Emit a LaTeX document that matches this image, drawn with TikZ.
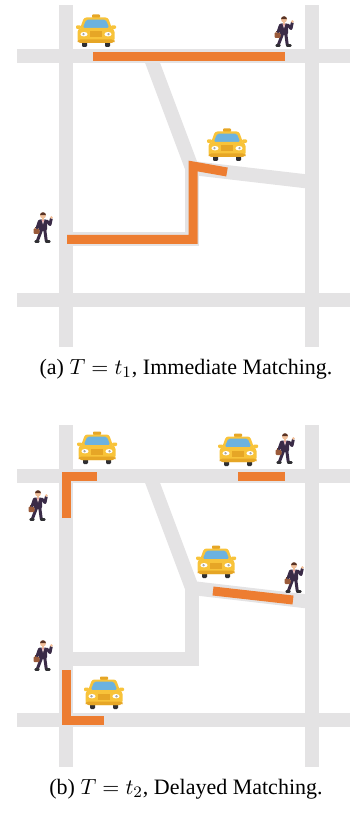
\documentclass[tikz,border=0pt]{standalone}
\usepackage[no-math]{fontspec}
\setmainfont{Liberation Serif}
\begin{document}
\definecolor{road}{HTML}{E4E3E4}
\definecolor{route}{HTML}{ED7D31}
\definecolor{taxiyellow}{HTML}{F8C33A}
\definecolor{taxidark}{HTML}{E6A626}
\definecolor{taxiglass}{HTML}{6CB2DF}
\definecolor{taxiwheel}{HTML}{2F2F33}
\definecolor{suit}{HTML}{3A2B47}
\definecolor{skin}{HTML}{F1C09B}
\definecolor{hair}{HTML}{5A3324}
\definecolor{bag}{HTML}{9A5A3A}
\definecolor{tie}{HTML}{C9393B}
\begin{tikzpicture}[x=0.5pt,y=-0.5pt,
  roadline/.style={draw=road,line width=7pt},
  routeline/.style={draw=route,line width=4.5pt,line join=miter},
  caption/.style={font=\fontsize{11}{13}\selectfont,inner sep=0pt},
  taxi/.pic={
    % wheels
    \fill[taxiwheel,rounded corners=0.6pt] (-14,8) rectangle (-9,16);
    \fill[taxiwheel,rounded corners=0.6pt] (9,8) rectangle (14,16);
    % roof sign
    \fill[taxidark,rounded corners=0.4pt] (-4,-16.5) rectangle (4,-13);
    % cabin and windshield
    \fill[taxiyellow,rounded corners=1.2pt] (-12,-13.5) -- (12,-13.5) -- (16.5,-1) -- (-16.5,-1) -- cycle;
    \fill[taxiglass,rounded corners=0.8pt] (-9.8,-11.3) -- (9.8,-11.3) -- (13.2,-3) -- (-13.2,-3) -- cycle;
    % side mirrors
    \fill[taxiyellow,rounded corners=0.5pt] (-20,-5.5) rectangle (-15,-2);
    \fill[taxiyellow,rounded corners=0.5pt] (15,-5.5) rectangle (20,-2);
    % body
    \fill[taxiyellow,rounded corners=2pt] (-18.5,-3) rectangle (18.5,12);
    \fill[taxidark,rounded corners=1.5pt] (-18.5,8.5) rectangle (18.5,12);
    % grille
    \fill[taxidark] (-6,0.5) rectangle (6,6.5);
    % headlights
    \fill[white] (-12,3.2) ellipse [x radius=3.6,y radius=2.2];
    \fill[white] (12,3.2) ellipse [x radius=3.6,y radius=2.2];
    \fill[gray!70] (-12.5,3.2) circle [radius=1.3];
    \fill[gray!70] (12.5,3.2) circle [radius=1.3];
  },
  person/.pic={
    % legs and shoes
    \draw[suit,line width=1.5pt,line cap=round] (-1.5,3) -- (-5.5,13.5);
    \draw[suit,line width=1.5pt,line cap=round] (1.8,3) -- (3.2,13.5);
    \draw[taxiwheel,line width=1.2pt,line cap=round] (-7.5,14.5) -- (-4.5,14.5);
    \draw[taxiwheel,line width=1.2pt,line cap=round] (3,14.5) -- (6.5,14.5);
    % briefcase and lowered arm
    \fill[bag,rounded corners=0.5pt] (-9.5,1.5) rectangle (-3.5,7);
    \draw[bag!70!black,line width=0.4pt] (-7.5,1.5) -- (-7.5,0.3) -- (-5.5,0.3) -- (-5.5,1.5);
    \draw[suit,line width=1.5pt,line cap=round] (-3.5,-6) -- (-5.8,0.8);
    % torso
    \fill[suit,rounded corners=1pt] (-4.3,-7.5) -- (4.3,-7.5) -- (4,4) -- (-4,4) -- cycle;
    \fill[white] (-1.5,-7.5) -- (1.5,-7.5) -- (0,-2.5) -- cycle;
    \fill[tie] (-0.6,-7.2) -- (0.6,-7.2) -- (0,-3.5) -- cycle;
    % raised waving arm
    \draw[suit,line width=1.5pt,line cap=round,line join=round] (3.8,-6) -- (7,-2.5) -- (8.2,-8);
    \fill[skin] (8.4,-9.5) circle [radius=1.5];
    % head
    \fill[skin] (-0.9,-9) rectangle (0.9,-7);
    \fill[skin] (0,-11.5) circle [radius=3];
    \fill[hair] (-3,-11.8) arc [start angle=180,end angle=360,radius=3] -- cycle;
  }]
\useasboundingbox (0,0) rectangle (350,822);

% street network, drawn once for each panel
\foreach \dy/\top/\bot in {0/5/347, 420/425/767}{
  \begin{scope}[yshift=-\dy*0.5pt]
    \draw[roadline] (66,\top-\dy) -- (66,\bot-\dy);
    \draw[roadline] (312,\top-\dy) -- (312,\bot-\dy);
    \draw[roadline] (17,56) -- (350,56);
    \draw[roadline] (17,300) -- (350,300);
    \draw[roadline,line join=round] (150,56) -- (192,168) -- (312,182);
    \draw[roadline] (192,168) -- (192,239) -- (66,239);
  \end{scope}
}

% routes of the immediate matching
\draw[routeline] (93,57) -- (285,57);
\draw[routeline] (67,239.5) -- (193,239.5) -- (193,166) -- (227,172);

% routes of the delayed matching
\draw[routeline] (66,518) -- (66,476) -- (97,476);
\draw[routeline] (238,476) -- (285,476);
\draw[routeline] (213,591) -- (293,600);
\draw[routeline] (66,670) -- (66,720) -- (104,720);

% taxis
\pic at (96,31) {taxi};
\pic at (227,145) {taxi};
\pic at (97,448) {taxi};
\pic at (238,450) {taxi};
\pic at (216,562) {taxi};
\pic at (104,693) {taxi};

% passengers
\pic at (284,31) {person};
\pic at (43,227) {person};
\pic at (285,448) {person};
\pic at (38,505) {person};
\pic at (294,577) {person};
\pic at (43,655) {person};

% captions
\node[caption] (capa) at (186,369) {(a) $T=t_1$, Immediate Matching.};
\node[caption] (capb) at (186,789) {(b) $T=t_2$, Delayed Matching.};
\end{tikzpicture}
\end{document}
